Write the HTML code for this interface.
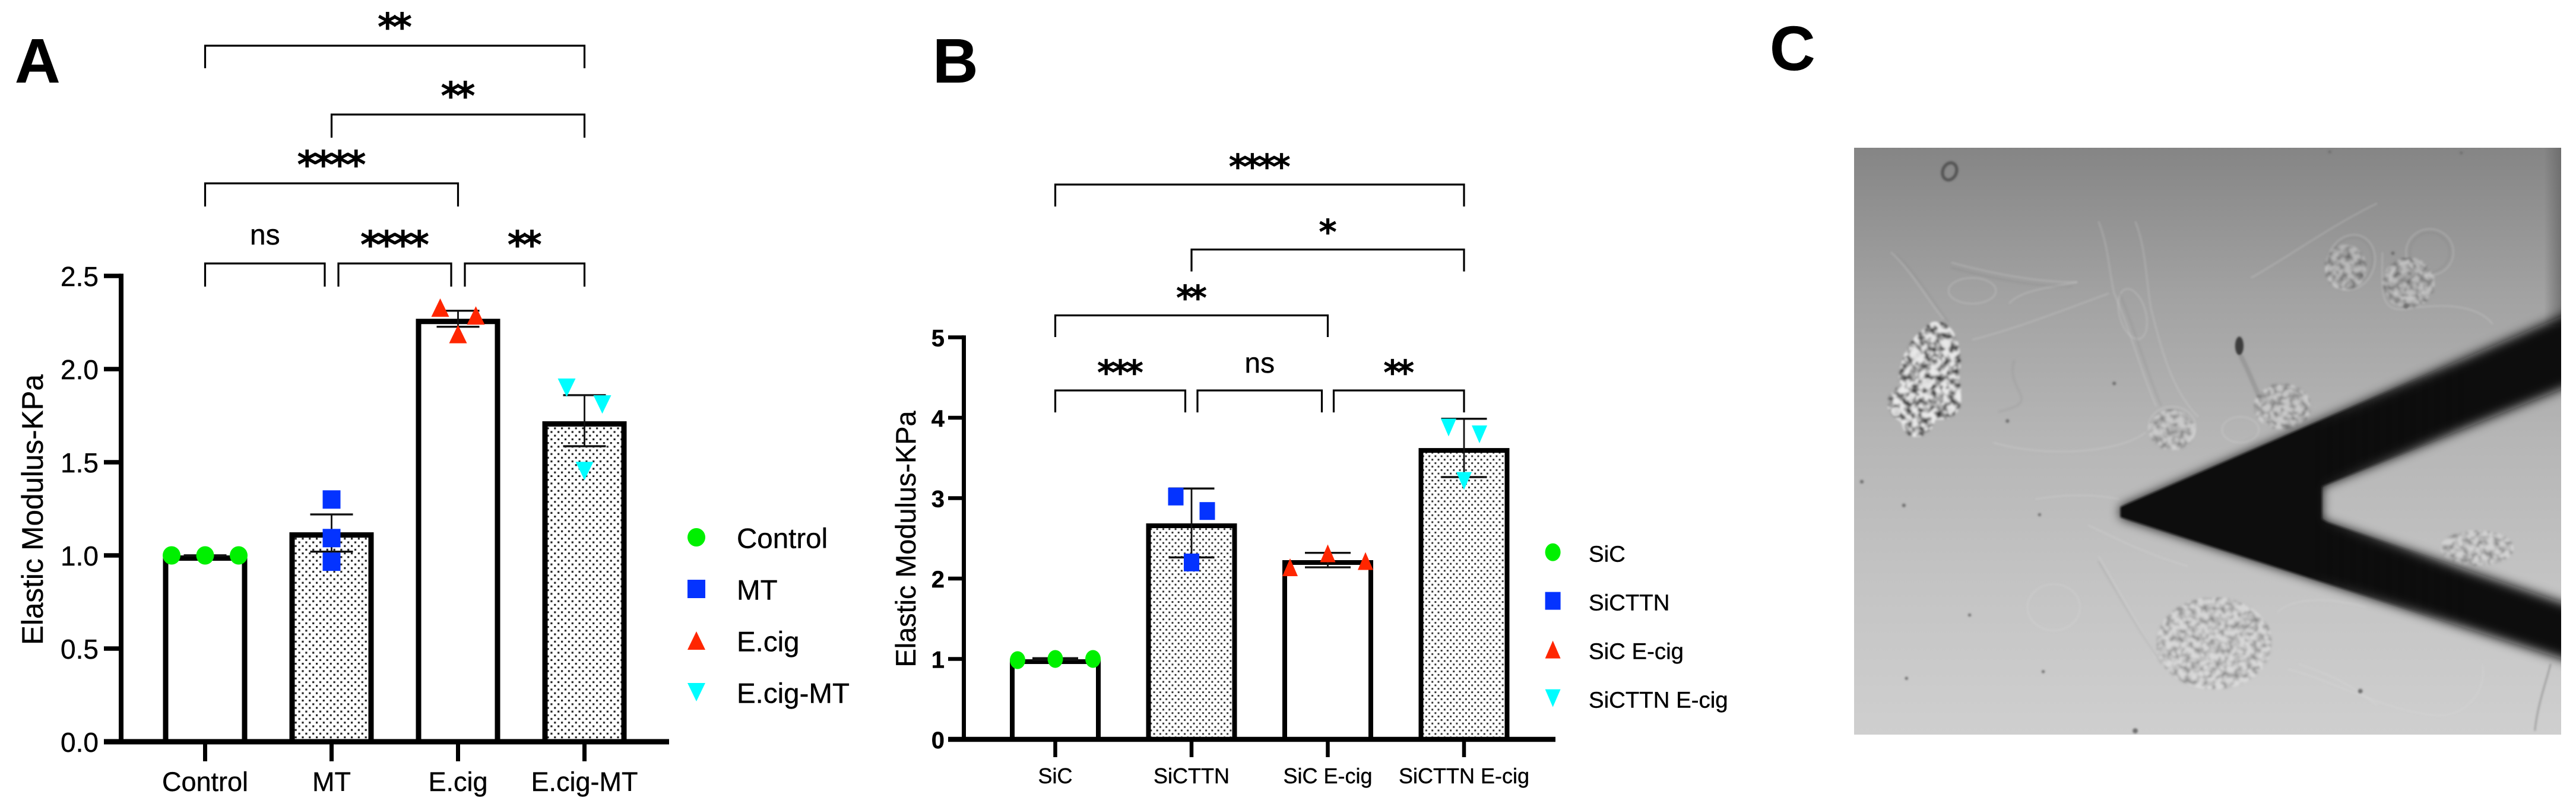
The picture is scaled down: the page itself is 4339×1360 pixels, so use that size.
<!DOCTYPE html>
<html lang="en">
<head>
<meta charset="utf-8">
<title>Elastic modulus panels</title>
<style>
html,body{margin:0;padding:0;background:#fff;width:4339px;height:1360px;overflow:hidden}
svg{display:block}
text{font-family:"Liberation Sans",sans-serif;fill:#000;stroke:#000;stroke-width:.4px}
.panel-letter{font-weight:700;font-size:106px}
.star{font-family:"DejaVu Sans",sans-serif;font-weight:700}
</style>
</head>
<body>
<svg id="figure" xmlns="http://www.w3.org/2000/svg" width="4339" height="1360" viewBox="0 0 4339 1360">
  <defs>
    <pattern id="dotsA" width="11.8" height="12.4" patternUnits="userSpaceOnUse">
      <rect width="11.8" height="12.4" fill="#fff"/>
      <rect x="1" y="1" width="3.2" height="3.2" fill="#222"/>
      <rect x="6.9" y="7.2" width="3.2" height="3.2" fill="#222"/>
    </pattern>
    <pattern id="dotsB" width="10.3" height="11.7" patternUnits="userSpaceOnUse">
      <rect width="10.3" height="11.7" fill="#fff"/>
      <rect x="1" y="1" width="3" height="3" fill="#333"/>
      <rect x="6.15" y="6.85" width="3" height="3" fill="#333"/>
    </pattern>
    <linearGradient id="imageBg" x1="0" y1="0" x2="0" y2="1">
      <stop offset="0" stop-color="#858585"/>
      <stop offset=".25" stop-color="#a2a2a2"/>
      <stop offset=".5" stop-color="#b6b6b6"/>
      <stop offset=".75" stop-color="#c4c4c4"/>
      <stop offset="1" stop-color="#cfcfcf"/>
    </linearGradient>
    <linearGradient id="edgeShade" x1="0" y1="0" x2="1" y2="0">
      <stop offset="0" stop-color="#666" stop-opacity="0"/>
      <stop offset="1" stop-color="#666" stop-opacity=".75"/>
    </linearGradient>
    <linearGradient id="sharpFade" gradientUnits="userSpaceOnUse" x1="3570" y1="0" x2="4150" y2="0">
      <stop offset="0" stop-color="#fff"/>
      <stop offset=".55" stop-color="#fff"/>
      <stop offset="1" stop-color="#000"/>
    </linearGradient>
    <mask id="sharpMask" maskUnits="userSpaceOnUse" x="3100" y="240" width="1300" height="1010">
      <rect x="3100" y="240" width="1300" height="1010" fill="url(#sharpFade)"/>
    </mask>
    <clipPath id="imageClip"><rect x="3123" y="249" width="1191" height="989"/></clipPath>
    <filter id="blurWide" x="-10%" y="-10%" width="120%" height="120%"><feGaussianBlur stdDeviation="9"/></filter>
    <filter id="blurTight" x="-10%" y="-10%" width="120%" height="120%"><feGaussianBlur stdDeviation="1.6"/></filter>
    <filter id="blurSoft" x="-10%" y="-10%" width="120%" height="120%"><feGaussianBlur stdDeviation="1.8"/></filter>
    <filter id="speckle" x="0" y="0" width="100%" height="100%" color-interpolation-filters="sRGB">
      <feTurbulence type="fractalNoise" baseFrequency="0.085" numOctaves="2" seed="7" result="n"/>
      <feColorMatrix in="n" type="matrix" values="2.6 0 0 0 -0.6 2.6 0 0 0 -0.6 2.6 0 0 0 -0.6 0 0 0 0 1" result="g"/>
      <feComposite in="g" in2="SourceGraphic" operator="in"/>
      <feGaussianBlur stdDeviation="1.2"/>
    </filter>
  </defs>

  <text class="panel-letter" x="25" y="139">A</text>
  <text class="panel-letter" x="1571" y="139">B</text>
  <text class="panel-letter" x="2981" y="118">C</text>

  <g id="chartA"></g>
  <g id="chartB"></g>

  <g clip-path="url(#imageClip)">
    <rect x="3123" y="249" width="1191" height="989" fill="url(#imageBg)"/>
    <rect x="4285" y="249" width="29" height="300" fill="url(#edgeShade)"/>
    <g transform="translate(2950,0) scale(0.8857,0.8673)" filter="url(#blurSoft)">
      <g fill="none" stroke="#dedede" stroke-opacity=".22" stroke-width="3.5">
        <path d="M265,490 C300,520 340,590 365,620"/>
        <path d="M380,510 C450,530 550,550 620,548"/>
        <path d="M620,548 C560,560 510,565 490,590"/>
        <ellipse cx="420" cy="565" rx="45" ry="25"/>
        <path d="M660,430 C680,480 680,530 690,570 C720,640 740,720 770,790"/>
        <path d="M730,430 C750,480 750,540 760,600 C780,680 800,760 850,810"/>
        <ellipse cx="725" cy="610" rx="25" ry="50" transform="rotate(-15 725 610)"/>
        <path d="M420,660 C500,640 600,600 680,570"/>
        <path d="M460,860 C560,890 700,880 750,840"/>
        <ellipse cx="800" cy="830" rx="45" ry="40"/>
        <ellipse cx="1010" cy="790" rx="50" ry="40"/>
        <ellipse cx="930" cy="835" rx="35" ry="25"/>
        <ellipse cx="1140" cy="510" rx="45" ry="55" transform="rotate(20 1140 510)"/>
        <ellipse cx="1290" cy="490" rx="45" ry="45"/>
        <ellipse cx="1250" cy="545" rx="35" ry="35"/>
        <path d="M1200,490 C1200,560 1190,610 1250,600 C1310,590 1380,590 1410,630"/>
        <path d="M950,540 C1020,500 1100,440 1190,395"/>
        <path d="M660,1080 C700,1150 740,1220 770,1280"/>
        <path d="M1020,1300 C1100,1320 1200,1380 1300,1390 C1360,1395 1400,1340 1390,1290"/>
        <ellipse cx="575" cy="1180" rx="50" ry="45"/>
        <path d="M640,1020 C700,1050 760,1080 830,1100"/>
        <path d="M540,970 C600,960 650,960 700,970"/>
        <path d="M1000,1190 C1030,1160 1100,1160 1170,1180"/>
        <path d="M1040,1290 C1100,1310 1140,1330 1190,1370"/>
      </g>
      <g fill="none" stroke="#6f6f6f" stroke-opacity=".16" stroke-width="3">
        <path d="M275,495 C310,525 350,595 375,625"/>
        <path d="M380,520 C450,540 550,560 610,556"/>
        <path d="M700,570 C730,640 750,720 780,790"/>
        <path d="M660,1090 C700,1160 740,1230 780,1290"/>
        <path d="M470,800 C560,780 480,760 500,700"/>
        <path d="M1490,1420 C1495,1370 1510,1330 1520,1290" stroke-opacity=".5"/>
        <path d="M930,690 C950,730 960,760 975,790" stroke-width="9" stroke-opacity=".3"/>
        <ellipse cx="1140" cy="510" rx="40" ry="50" transform="rotate(20 1140 510)"/>
        <ellipse cx="1290" cy="490" rx="38" ry="38"/>
      </g>
      <g opacity=".3">
        <ellipse cx="880" cy="1250" rx="110" ry="90" filter="url(#speckle)"/>
        <ellipse cx="1010" cy="790" rx="55" ry="45" filter="url(#speckle)"/>
        <ellipse cx="800" cy="835" rx="45" ry="40" filter="url(#speckle)"/>
        <ellipse cx="1250" cy="550" rx="50" ry="50" filter="url(#speckle)"/>
        <ellipse cx="1130" cy="520" rx="40" ry="45" filter="url(#speckle)"/>
        <ellipse cx="1380" cy="1065" rx="70" ry="35" filter="url(#speckle)"/>
      </g>
      <path d="M345,625 C390,620 405,680 395,740 C410,790 390,820 350,815 C340,860 290,860 285,820 C250,800 250,770 280,750 C280,710 290,660 345,625 Z" filter="url(#speckle)" opacity=".75"/>
      <g fill="#e8e8e8" opacity=".85">
        <circle cx="312" cy="688" r="10"/><circle cx="370" cy="668" r="9"/><circle cx="335" cy="745" r="10"/>
        <circle cx="275" cy="800" r="9"/><circle cx="380" cy="795" r="7"/><circle cx="305" cy="770" r="6"/>
      </g>
      <g>
        <ellipse cx="928" cy="672" rx="8" ry="18" fill="#3d3d3d"/>
        <ellipse cx="377" cy="333" rx="13" ry="17" fill="none" stroke="#555" stroke-width="6" transform="rotate(20 377 333)"/>
        <g fill="#707070">
          <circle cx="210" cy="936" r="3.5"/><circle cx="290" cy="982" r="3.5"/><circle cx="548" cy="1000" r="3"/>
          <circle cx="415" cy="1195" r="3"/><circle cx="295" cy="1318" r="3"/><circle cx="555" cy="1305" r="3"/>
          <circle cx="1158" cy="1343" r="4.5"/><circle cx="730" cy="1420" r="5"/><circle cx="690" cy="745" r="3.5"/>
          <circle cx="487" cy="818" r="3.5"/><circle cx="1160" cy="535" r="3.5"/><circle cx="1245" cy="595" r="5"/>
          <circle cx="1350" cy="297" r="3"/><circle cx="1100" cy="295" r="3"/><circle cx="1220" cy="492" r="3.5"/>
        </g>
      </g>
    </g>
    <g fill="#0f0f0f">
      <polygon filter="url(#blurWide)" points="3571.8,854.3 4400,496 4400,621 3911,819.6 3911,875 3920,880.3 4400,1044 4400,1137.6 3571.8,871.6"/>
      <g mask="url(#sharpMask)">
        <polygon filter="url(#blurTight)" points="3571.8,854.3 4400,496 4400,621 3911,819.6 3911,875 3920,880.3 4400,1044 4400,1137.6 3571.8,871.6"/>
      </g>
    </g>
  </g>
</svg>

<script>
// ---------- Panel A data ----------
const categoriesA = ['Control', 'MT', 'E.cig', 'E.cig-MT'];
const meansA = [1.0, 1.124, 2.27, 1.72];
const errHighA = [1.0, 1.22, 2.313, 1.86];
const errLowA = [1.0, 1.02, 2.227, 1.586];
const controlPointsA = [1.0, 1.0, 1.0];
const mtPointsA = [1.30, 1.093, 0.966];
const ecigPointsA = [2.33, 2.188, 2.288];
const ecigMtPointsA = [1.90, 1.453, 1.81];
const yTickLabelsA = ['0.0', '0.5', '1.0', '1.5', '2.0', '2.5'];
const legendLabelsA = ['Control', 'MT', 'E.cig', 'E.cig-MT'];

// ---------- Panel B data ----------
const categoriesB = ['SiC', 'SiCTTN', 'SiC E-cig', 'SiCTTN E-cig'];
const meansB = [0.996, 2.686, 2.229, 3.623];
const errHighB = [1.01, 3.12, 2.32, 3.987];
const errLowB = [0.99, 2.263, 2.14, 3.262];
const sicPointsB = [0.985, 1.0, 1.0];
const sicttnPointsB = [3.02, 2.2, 2.84];
const sicEcigPointsB = [2.14, 2.314, 2.218];
const sicttnEcigPointsB = [3.878, 3.214, 3.793];
const yTickLabelsB = ['0', '1', '2', '3', '4', '5'];
const legendLabelsB = ['SiC', 'SiCTTN', 'SiC E-cig', 'SiCTTN E-cig'];

const NS = 'http://www.w3.org/2000/svg';
const GREEN = '#00f000', BLUE = '#0433ff', RED = '#ff2600', CYAN = '#00fdff';

function make(parent, tag, attrs, content) {
  const node = document.createElementNS(NS, tag);
  for (const k in attrs) node.setAttribute(k, attrs[k]);
  if (content !== undefined) node.textContent = content;
  parent.appendChild(node);
  return node;
}

function drawMarker(parent, shape, cx, cy, w, h, color) {
  if (shape === 'circle') return make(parent, 'ellipse', {cx: cx, cy: cy, rx: w / 2, ry: h / 2, fill: color});
  if (shape === 'square') return make(parent, 'rect', {x: cx - w / 2, y: cy - h / 2, width: w, height: h, fill: color});
  if (shape === 'up') return make(parent, 'polygon', {points: (cx - w / 2) + ',' + (cy + h / 2) + ' ' + cx + ',' + (cy - h / 2) + ' ' + (cx + w / 2) + ',' + (cy + h / 2), fill: color});
  return make(parent, 'polygon', {points: (cx - w / 2) + ',' + (cy - h / 2) + ' ' + cx + ',' + (cy + h / 2) + ' ' + (cx + w / 2) + ',' + (cy - h / 2), fill: color});
}

function drawChart(root, cfg, categories, means, errHigh, errLow, series, yTickLabels, legendLabels) {
  const xScale = i => cfg.x0 + i * cfg.step;
  const yScale = v => cfg.y0 - v * cfg.unit;

  // bars
  means.forEach((m, i) => {
    const inset = cfg.barStroke / 2;
    const bar = make(root, 'rect', {
      x: xScale(i) - cfg.barWidth / 2 + inset,
      y: yScale(m) + inset,
      width: cfg.barWidth - cfg.barStroke,
      height: cfg.y0 - yScale(m) - inset,
      fill: i % 2 ? 'url(#' + cfg.pattern + ')' : '#fff',
      stroke: '#000',
      'stroke-width': cfg.barStroke
    });
    
    
  });

  // error bars
  means.forEach((m, i) => {
    const g = make(root, 'g', {stroke: '#111', fill: 'none'});
    
    
    const cx = xScale(i);
    make(g, 'line', {x1: cx, x2: cx, y1: yScale(errHigh[i]), y2: yScale(errLow[i]), 'stroke-width': 2.8});
    make(g, 'line', {x1: cx - cfg.capWidth / 2, x2: cx + cfg.capWidth / 2, y1: yScale(errHigh[i]), y2: yScale(errHigh[i]), 'stroke-width': 3.4});
    make(g, 'line', {x1: cx - cfg.capWidth / 2, x2: cx + cfg.capWidth / 2, y1: yScale(errLow[i]), y2: yScale(errLow[i]), 'stroke-width': 3.4});
  });

  // data points
  series.forEach((s, i) => {
    const g = make(root, 'g', {});
    
    
    s.values.forEach((v, j) => {
      const p = drawMarker(g, s.shape, xScale(i) + (j - 1) * s.spread, yScale(v), cfg.markW, cfg.markH, s.color);
      
      
    });
  });

  // y axis
  const topTick = parseFloat(yTickLabels[yTickLabels.length - 1]);
  const yAxis = make(root, 'line', {x1: cfg.axisX, x2: cfg.axisX, y1: yScale(topTick) - cfg.tickStroke / 2, y2: cfg.y0, stroke: '#000', 'stroke-width': cfg.axisStroke});
  
  
  yTickLabels.forEach(t => {
    const v = parseFloat(t);
    const tick = make(root, 'line', {x1: cfg.tickStartX, x2: cfg.axisX, y1: yScale(v), y2: yScale(v), stroke: '#000', 'stroke-width': cfg.tickStroke});
    
    
    const label = make(root, 'text', {x: cfg.tickLabelX, y: yScale(v) + cfg.tickLabelDy, 'text-anchor': 'end', 'font-size': cfg.tickFont, 'font-weight': cfg.tickWeight}, t);
    
    
  });

  // x axis
  const xAxis = make(root, 'line', {x1: cfg.tickStartX, x2: cfg.xAxisEnd, y1: cfg.y0, y2: cfg.y0, stroke: '#000', 'stroke-width': cfg.xAxisStroke});
  
  
  categories.forEach((c, i) => {
    const tick = make(root, 'line', {x1: xScale(i), x2: xScale(i), y1: cfg.y0, y2: cfg.xTickEnd, stroke: '#000', 'stroke-width': cfg.xTickStroke});
    
    
    const label = make(root, 'text', {x: xScale(i), y: cfg.xLabelY, 'text-anchor': 'middle', 'font-size': cfg.xFont}, c);
    
    
  });

  // y axis title
  const title = make(root, 'text', {
    transform: 'translate(' + cfg.titleX + ',' + cfg.titleBottom + ') rotate(-90)',
    'font-size': cfg.titleFont,
    textLength: cfg.titleLen,
    lengthAdjust: 'spacingAndGlyphs'
  }, 'Elastic Modulus-KPa');
  
  

  // legend
  legendLabels.forEach((t, i) => {
    const g = make(root, 'g', {});
    
    
    const mark = drawMarker(g, series[i].shape, cfg.legendMarkX, cfg.legendY(i), cfg.markW, cfg.markH, series[i].color);
    
    
    const label = make(g, 'text', {x: cfg.legendTextX, y: cfg.legendY(i) + cfg.legendDy, 'font-size': cfg.legendFont}, t);
    
    
  });

  return xScale;
}

function drawBracket(root, x1, x2, top, bottom, text, textCenterY, labelX, fontSize, advance) {
  const g = make(root, 'g', {});
  
  
  make(g, 'path', {d: 'M' + x1 + ',' + bottom + ' V' + top + ' H' + x2 + ' V' + bottom, fill: 'none', stroke: '#000', 'stroke-width': 3.2});
  const cx = labelX === null ? (x1 + x2) / 2 : labelX;
  if (text === 'ns') {
    const ns = make(g, 'text', {x: cx, y: textCenterY + 14, 'text-anchor': 'middle', 'font-size': 48}, text);
    
    
  } else {
    const star = make(g, 'text', {
      class: 'star', x: cx, y: textCenterY + 0.5 * fontSize,
      'text-anchor': 'middle', 'font-size': fontSize,
      textLength: advance * text.length, lengthAdjust: 'spacing'
    }, text);
    
    
  }
}

// ---------- Panel A ----------
const rootA = document.getElementById('chartA');
const seriesA = [
  {values: controlPointsA, shape: 'circle', color: GREEN, spread: 56.5},
  {values: mtPointsA, shape: 'square', color: BLUE, spread: 0},
  {values: ecigPointsA, shape: 'up', color: RED, spread: 30},
  {values: ecigMtPointsA, shape: 'down', color: CYAN, spread: 30}
];
const xA = drawChart(rootA, {
  x0: 345.5, step: 213, y0: 1250, unit: 314, barWidth: 142, barStroke: 9, capWidth: 72,
  pattern: 'dotsA', markW: 30, markH: 31,
  axisX: 204, axisStroke: 8, tickStartX: 175, tickStroke: 7.5, tickLabelX: 166, tickLabelDy: 17, tickFont: 46, tickWeight: 400,
  xAxisEnd: 1127, xAxisStroke: 9, xTickEnd: 1283, xTickStroke: 7, xLabelY: 1333, xFont: 45,
  titleX: 72, titleBottom: 1087, titleFont: 50, titleLen: 456,
  legendMarkX: 1173, legendTextX: 1241, legendFont: 47.5, legendDy: 18,
  legendY: i => 905.5 + i * 87
}, categoriesA, meansA, errHighA, errLowA, seriesA, yTickLabelsA, legendLabelsA);

drawBracket(rootA, xA(0), xA(3), 77, 115, '**', 36, null, 64, 29);
drawBracket(rootA, xA(1), xA(3), 193, 232, '**', 152, null, 64, 29);
drawBracket(rootA, xA(0), xA(2), 309, 348, '****', 268, null, 64, 29);
drawBracket(rootA, xA(0), xA(1) - 11.5, 444, 483, 'ns', 398, null, 64, 29);
drawBracket(rootA, xA(1) + 11.5, xA(2) - 11.5, 444, 483, '****', 403, null, 64, 29);
drawBracket(rootA, xA(2) + 11.5, xA(3), 444, 483, '**', 403, null, 64, 29);

// ---------- Panel B ----------
const rootB = document.getElementById('chartB');
const seriesB = [
  {values: sicPointsB, shape: 'circle', color: GREEN, spread: 63.5},
  {values: sicttnPointsB, shape: 'square', color: BLUE, spread: 26.5},
  {values: sicEcigPointsB, shape: 'up', color: RED, spread: 63.5},
  {values: sicttnEcigPointsB, shape: 'down', color: CYAN, spread: 26}
];
const xB = drawChart(rootB, {
  x0: 1777.5, step: 229.5, y0: 1246, unit: 135.5, barWidth: 153, barStroke: 8, capWidth: 77,
  pattern: 'dotsB', markW: 26, markH: 30,
  axisX: 1623.5, axisStroke: 7, tickStartX: 1597, tickStroke: 6.5, tickLabelX: 1591, tickLabelDy: 15, tickFont: 40, tickWeight: 700,
  xAxisEnd: 2620, xAxisStroke: 8.5, xTickEnd: 1276, xTickStroke: 6.5, xLabelY: 1320, xFont: 36,
  titleX: 1542, titleBottom: 1124.5, titleFont: 47, titleLen: 432,
  legendMarkX: 2615.6, legendTextX: 2676, legendFont: 38.4, legendDy: 16,
  legendY: i => 930.6 + i * 82
}, categoriesB, meansB, errHighB, errLowB, seriesB, yTickLabelsB, legendLabelsB);

drawBracket(rootB, xB(0), xB(3), 311, 348, '****', 272, null, 58, 26);
drawBracket(rootB, xB(1), xB(3), 420.5, 457.5, '*', 382, null, 58, 26);
drawBracket(rootB, xB(0), xB(2), 531.5, 568, '**', 493, null, 58, 26);
drawBracket(rootB, xB(0), xB(1) - 10.5, 658, 695, '***', 619, null, 58, 26);
drawBracket(rootB, xB(1) + 10, xB(2) - 10, 658, 695, 'ns', 614, null, 58, 26);
drawBracket(rootB, xB(2) + 10, xB(3), 658, 695, '**', 619, null, 58, 26);
</script>
</body>
</html>
